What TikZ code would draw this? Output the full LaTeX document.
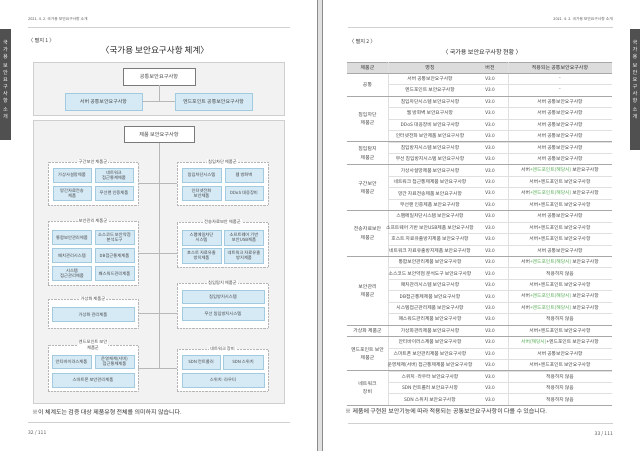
\documentclass[tikz,border=0pt]{standalone}
\usepackage{fontspec}
\setmainfont{Noto Sans CJK KR}
\definecolor{tabg}{HTML}{505050}
\definecolor{panbg}{HTML}{F2F2F2}
\definecolor{panbd}{HTML}{CFCFCF}
\definecolor{bluefill}{HTML}{D6EAF6}
\definecolor{bluebd}{HTML}{A3CBE0}
\definecolor{grpbd}{HTML}{B5B5B5}
\definecolor{connc}{HTML}{B8B8B8}
\definecolor{darkbd}{HTML}{7A7A7A}
\definecolor{txt}{HTML}{444444}
\definecolor{grn}{HTML}{4FA84F}
\definecolor{hdr}{HTML}{DCDCDC}
\definecolor{rowline}{HTML}{E0E0E0}
\definecolor{grpline}{HTML}{A8A8A8}
\definecolor{rulec}{HTML}{D0D0D0}
\newcommand\myfs[2]{\fontsize{#1}{#2}\selectfont}
\newcommand\grn[1]{\textcolor{grn}{#1}}
\begin{document}
\begin{tikzpicture}[x=1pt,y=-1pt,
  panel/.style={draw=panbd, fill=panbg, line width=0.5pt, inner sep=0pt},
  topbox/.style={draw=darkbd, fill=white, line width=0.5pt, inner sep=0pt, text=txt, font=\myfs{5.2}{6.2}},
  itembox/.style={draw=bluebd, fill=bluefill, line width=0.35pt, inner sep=0pt, align=center, text=txt, font=\myfs{4.3}{5.2}},
  grpbox/.style={draw=grpbd, fill=white, line width=0.45pt, densely dotted, inner sep=0pt},
  grplabel/.style={fill=white, inner sep=1pt, align=center, text=txt, font=\myfs{4.3}{6}},
  conn/.style={draw=connc, line width=0.6pt},
  cell/.style={text=txt, inner sep=0pt, font=\myfs{4.8}{6}},
  catcell/.style={text=txt, inner sep=0pt, align=center, font=\myfs{4.9}{8.5}},
  hdrcell/.style={text=black!80, inner sep=0pt, font=\myfs{5}{6}},
  rowl/.style={draw=rowline, line width=0.4pt},
  grpl/.style={draw=grpline, line width=0.5pt},
  tabtext/.style={text=white, align=center, inner sep=0pt, font=\myfs{5.2}{7}},
  small/.style={text=black!65, inner sep=0pt, font=\myfs{3.8}{4.5}},
  note/.style={text=black!80, inner sep=0pt, font=\myfs{6}{7}},
  pnum/.style={text=black!65, inner sep=0pt, font=\myfs{5}{6}},
]
\useasboundingbox (0,0) rectangle (640,451);
\fill[white] (0,0) rectangle (640,451);
% gutter between pages
\fill[black!12] (317,0) rectangle (323,451);
\draw[black!45, line width=0.6pt] (317.3,0) -- (317.3,451);
\draw[black!45, line width=0.6pt] (322.7,0) -- (322.7,451);

% side tabs
\fill[tabg] (0,29) rectangle (11,140);
\node[tabtext] (tabL) at (5.5,80) {국\\가\\용\\[2pt]보\\안\\요\\구\\사\\항\\[2pt]소\\개};
\fill[tabg] (630,29) rectangle (640,150);
\node[tabtext] (tabR) at (635,80) {국\\가\\용\\[2pt]보\\안\\요\\구\\사\\항\\[2pt]소\\개};

% headers and rules
\node[small, anchor=west] (hdrL) at (28,19) {2021. 4. 2. 국가용 보안요구사항 소개};
\node[small, anchor=east] (hdrR) at (613,19) {2021. 4. 2. 국가용 보안요구사항 소개};
\draw[rulec, line width=0.8pt] (28,27) -- (290,27);
\draw[rulec, line width=0.8pt] (348,27) -- (613,27);
\draw[rulec, line width=0.8pt] (28,422) -- (290,422);
\draw[rulec, line width=0.8pt] (348,423) -- (613,423);
\node[pnum, anchor=west] (pgL) at (28,433) {32 / 111};
\node[pnum, anchor=east] (pgR) at (613,434) {33 / 111};

% ================= LEFT PAGE =================
\node[text=black!80, inner sep=0pt, anchor=west, font=\myfs{5.2}{6}] (annex1) at (28,41) {〈 별지 1 〉};
\node[text=black!85, inner sep=0pt, font=\myfs{8.6}{10}] (title1) at (155,50) {〈국가용 보안요구사항 체계〉};

\node[panel, minimum width=251, minimum height=53] (pan1) at (158.5,88.5) {};
\node[topbox, minimum width=72, minimum height=17] (common) at (159,76.5) {공통보안요구사항};
\node[itembox, font=\myfs{5}{6}, minimum width=77, minimum height=17] (srv) at (103.5,101.5) {서버 공통보안요구사항};
\node[itembox, font=\myfs{5}{6}, minimum width=77, minimum height=17] (endp) at (213.5,101.5) {엔드포인트 공통보안요구사항};
\draw[conn] (common.south) -- (common.south |- srv.east);
\draw[conn] (srv.east) -- (endp.west);

\node[panel, minimum width=251, minimum height=283] (pan2) at (158.5,261.5) {};
\node[topbox, minimum width=70, minimum height=16] (prod) at (159,134.5) {제품 보안요구사항};

% group boxes
\node[grpbox, minimum width=90, minimum height=43] (g1l) at (93,183.5) {};
\node[grpbox, minimum width=91, minimum height=43] (g1r) at (222.5,183.5) {};
\node[grpbox, minimum width=90, minimum height=64] (g2l) at (93,253) {};
\node[grpbox, minimum width=91, minimum height=45] (g2r) at (222.5,244.5) {};
\node[grpbox, minimum width=90, minimum height=29] (g3l) at (93,313.5) {};
\node[grpbox, minimum width=91, minimum height=45] (g3r) at (222.5,305.5) {};
\node[grpbox, minimum width=90, minimum height=46] (g4l) at (93,368) {};
\node[grpbox, minimum width=91, minimum height=42] (g4r) at (222.5,370) {};

% connectors
\draw[conn] (prod.south) -- (prod.south |- g4l.east);
\draw[conn] (g1l.east) -- (g1r.west);
\draw[conn] (g2l.east) -- (g2l.east -| g2r.west);
\draw[conn] (g3l.east) -- (g3l.east -| g3r.west);
\draw[conn] (g4l.east) -- (g4l.east -| g4r.west);

% group labels
\node[grplabel] (g1lt) at (g1l.north) {구간보안 제품군};
\node[grplabel] (g1rt) at (g1r.north) {침입차단 제품군};
\node[grplabel] (g2lt) at (g2l.north) {보안관리 제품군};
\node[grplabel] (g2rt) at (g2r.north) {전송자료보안 제품군};
\node[grplabel] (g3lt) at (g3l.north) {가상화 제품군};
\node[grplabel] (g3rt) at (g3r.north) {침입탐지 제품군};
\node[grplabel, font=\myfs{4.3}{6.2}] (g4lt) at (g4l.north) {엔드포인트 보안\\제품군};
\node[grplabel] (g4rt) at (g4r.north) {네트워크 장비};

% items group 1
\node[itembox, minimum width=38, minimum height=14] (a1) at (72,175) {가상사설망제품};
\node[itembox, minimum width=38, minimum height=14] (a2) at (114,175) {네트워크\\접근통제제품};
\node[itembox, minimum width=38, minimum height=14] (a3) at (72,193) {망간자료전송\\제품};
\node[itembox, minimum width=38, minimum height=14] (a4) at (114,193) {무선랜 인증제품};
\node[itembox, minimum width=39, minimum height=14] (b1) at (201.5,175) {침입차단시스템};
\node[itembox, minimum width=38, minimum height=14] (b2) at (244,175) {웹 방화벽};
\node[itembox, minimum width=39, minimum height=14] (b3) at (201.5,193) {인터넷전화\\보안제품};
\node[itembox, minimum width=38, minimum height=14] (b4) at (244,193) {DDoS 대응장비};
% items group 2
\node[itembox, minimum width=39, minimum height=14] (c1) at (72,237.5) {통합보안관리제품};
\node[itembox, minimum width=39, minimum height=14] (c2) at (114.5,237.5) {소스코드 보안약점\\분석도구};
\node[itembox, minimum width=39, minimum height=14] (c3) at (72,255.5) {패치관리시스템};
\node[itembox, minimum width=39, minimum height=14] (c4) at (114.5,255.5) {DB접근통제제품};
\node[itembox, minimum width=39, minimum height=14] (c5) at (72,273.5) {시스템\\접근관리제품};
\node[itembox, minimum width=39, minimum height=14] (c6) at (114.5,273.5) {패스워드관리제품};
\node[itembox, minimum width=39, minimum height=15] (d1) at (201.5,237.5) {스팸메일차단\\시스템};
\node[itembox, minimum width=39, minimum height=15] (d2) at (244,237.5) {소프트웨어 기반\\보안USB제품};
\node[itembox, minimum width=39, minimum height=15] (d3) at (201.5,255.5) {호스트 자료유출\\방지제품};
\node[itembox, minimum width=39, minimum height=15] (d4) at (244,255.5) {네트워크 자료유출\\방지제품};
% items group 3
\node[itembox, minimum width=82, minimum height=14] (e1) at (93,314.5) {가상화 관리제품};
\node[itembox, minimum width=82, minimum height=13.5] (f1) at (223,296.5) {침입방지시스템};
\node[itembox, minimum width=82, minimum height=13.5] (f2) at (223,313.5) {무선 침입방지시스템};
% items group 4
\node[itembox, minimum width=39, minimum height=13.5] (h1) at (71.5,361.5) {안티바이러스제품};
\node[itembox, minimum width=39, minimum height=13.5] (h2) at (114.5,361.5) {운영체제(서버)\\접근통제제품};
\node[itembox, minimum width=82, minimum height=14] (h3) at (93,380) {스마트폰 보안관리제품};
\node[itembox, minimum width=38, minimum height=14] (k1) at (201,362) {SDN 컨트롤러};
\node[itembox, minimum width=40, minimum height=14] (k2) at (243,362) {SDN 스위치};
\node[itembox, minimum width=82, minimum height=14] (k3) at (223,380) {스위치·라우터};

\node[note, anchor=west] (noteL) at (32,412) {※이 체계도는 검증 대상 제품유형 전체를 의미하지 않습니다.};

% ================= RIGHT PAGE =================
\node[text=black!80, inner sep=0pt, anchor=west, font=\myfs{5.2}{6}] (annex2) at (349,42) {〈 별지 2 〉};
\node[text=black!85, inner sep=0pt, font=\myfs{6.1}{7}] (title2) at (482,52) {〈 국가용 보안요구사항 현황 〉};

\fill[hdr] (347,62) rectangle (612,73);
\draw[grpl] (347,62) -- (612,62);
\node[hdrcell] (hc1) at (367.5,67.5) {제품군};
\node[hdrcell] (hc2) at (430,67.5) {명칭};
\node[hdrcell] (hc3) at (490,67.5) {버전};
\node[hdrcell] (hc4) at (560,67.5) {적용되는 공통보안요구사항};

\foreach \i in {1,...,28} {
  \pgfmathsetmacro\yl{73+\i*11.45}
  \draw[rowl] (388,\yl) -- (612,\yl);
}
\draw[rowl] (388,62) -- (388,405.05);
\draw[rowl] (508,62) -- (508,405.05);
\foreach \i in {0,2,6,8,12,16,22,23,26,29} {
  \pgfmathsetmacro\yl{73+\i*11.45}
  \draw[grpl] (347,\yl) -- (612,\yl);
}

\foreach \i/\nm/\ap in {
  1/{서버 공통보안요구사항}/{-},
  2/{엔드포인트 보안요구사항}/{-},
  3/{침입차단시스템 보안요구사항}/{서버 공통보안요구사항},
  4/{웹 방화벽 보안요구사항}/{서버 공통보안요구사항},
  5/{DDoS 대응장비 보안요구사항}/{서버 공통보안요구사항},
  6/{인터넷전화 보안제품 보안요구사항}/{서버 공통보안요구사항},
  7/{침입방지시스템 보안요구사항}/{서버 공통보안요구사항},
  8/{무선 침입방지시스템 보안요구사항}/{서버 공통보안요구사항},
  9/{가상사설망제품 보안요구사항}/{서버\grn{+엔드포인트(해당시)} 보안요구사항},
  10/{네트워크 접근통제제품 보안요구사항}/{서버+엔드포인트 보안요구사항},
  11/{망간 자료전송제품 보안요구사항}/{서버\grn{+엔드포인트(해당시)} 보안요구사항},
  12/{무선랜 인증제품 보안요구사항}/{서버+엔드포인트 보안요구사항},
  13/{스팸메일차단시스템 보안요구사항}/{서버 공통보안요구사항},
  14/{소프트웨어 기반 보안USB제품 보안요구사항}/{서버+엔드포인트 보안요구사항},
  15/{호스트 자료유출방지제품 보안요구사항}/{서버+엔드포인트 보안요구사항},
  16/{네트워크 자료유출방지제품 보안요구사항}/{서버 공통보안요구사항},
  17/{통합보안관리제품 보안요구사항}/{서버\grn{+엔드포인트(해당시)} 보안요구사항},
  18/{소스코드 보안약점 분석도구 보안요구사항}/{적용하지 않음},
  19/{패치관리시스템 보안요구사항}/{서버+엔드포인트 보안요구사항},
  20/{DB접근통제제품 보안요구사항}/{서버\grn{+엔드포인트(해당시)} 보안요구사항},
  21/{시스템접근관리제품 보안요구사항}/{서버\grn{+엔드포인트(해당시)} 보안요구사항},
  22/{패스워드관리제품 보안요구사항}/{적용하지 않음},
  23/{가상화관리제품 보안요구사항}/{서버+엔드포인트 보안요구사항},
  24/{안티바이러스제품 보안요구사항}/{\grn{서버(해당시)}+엔드포인트 보안요구사항},
  25/{스마트폰 보안관리제품 보안요구사항}/{서버 공통보안요구사항},
  26/{운영체제(서버) 접근통제제품 보안요구사항}/{서버+엔드포인트 보안요구사항},
  27/{스위치·라우터 보안요구사항}/{적용하지 않음},
  28/{SDN 컨트롤러 보안요구사항}/{적용하지 않음},
  29/{SDN 스위치 보안요구사항}/{적용하지 않음}} {
  \pgfmathsetmacro\yc{73+(\i-0.5)*11.45}
  \node[cell] (nm\i) at (430,\yc) {\nm};
  \node[cell] (vr\i) at (490,\yc) {V3.0};
  \node[cell] (ap\i) at (560,\yc) {\ap};
}

\node[catcell] (cat1) at (367.5,84.45) {공통};
\node[catcell] (cat2) at (367.5,118.8) {침입차단\\제품군};
\node[catcell] (cat3) at (367.5,153.15) {침입탐지\\제품군};
\node[catcell] (cat4) at (367.5,187.5) {구간보안\\제품군};
\node[catcell] (cat5) at (367.5,233.3) {전송자료보안\\제품군};
\node[catcell] (cat6) at (367.5,290.55) {보안관리\\제품군};
\node[catcell] (cat7) at (367.5,330.6) {가상화 제품군};
\node[catcell] (cat8) at (367.5,353.5) {엔드포인트 보안\\제품군};
\node[catcell] (cat9) at (367.5,387.9) {네트워크\\장비};

\node[note, anchor=west] (noteR) at (345,411) {※ 제품에 구현된 보안기능에 따라 적용되는 공통보안요구사항이 다를 수 있습니다.};
\end{tikzpicture}
\end{document}
